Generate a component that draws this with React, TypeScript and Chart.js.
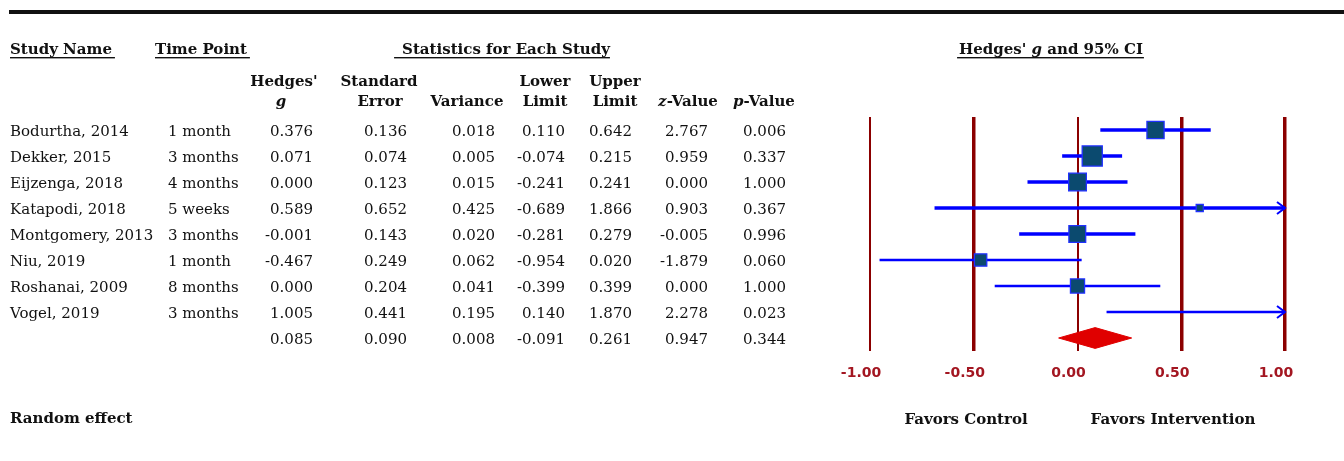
import React, { useEffect, useRef } from 'react';
import { Chart, registerables } from 'chart.js';

Chart.register(...registerables);

// ---------------- data ----------------
const studyNames = ['Bodurtha, 2014', 'Dekker, 2015', 'Eijzenga, 2018', 'Katapodi, 2018', 'Montgomery, 2013', 'Niu, 2019', 'Roshanai, 2009', 'Vogel, 2019'];
const timePoints = ['1 month', '3 months', '4 months', '5 weeks', '3 months', '1 month', '8 months', '3 months'];
const hedgesG = [0.376, 0.071, 0.0, 0.589, -0.001, -0.467, 0.0, 1.005];
const stdError = [0.136, 0.074, 0.123, 0.652, 0.143, 0.249, 0.204, 0.441];
const variance = [0.018, 0.005, 0.015, 0.425, 0.02, 0.062, 0.041, 0.195];
const lowerLimit = [0.11, -0.074, -0.241, -0.689, -0.281, -0.954, -0.399, 0.14];
const upperLimit = [0.642, 0.215, 0.241, 1.866, 0.279, 0.02, 0.399, 1.87];
const zValue = [2.767, 0.959, 0.0, 0.903, -0.005, -1.879, 0.0, 2.278];
const pValue = [0.006, 0.337, 1.0, 0.367, 0.996, 0.06, 1.0, 0.023];
// relative (random-effects) weights, %, estimated from square sizes
const relWeight = [16.9, 23.2, 18.0, 1.8, 16.2, 8.8, 11.4, 3.6];
// summary row: g, SE, variance, lower, upper, z, p
const summaryStats = [0.085, 0.09, 0.008, -0.091, 0.261, 0.947, 0.344];
const xTicks = [-1, -0.5, 0, 0.5, 1];

// ---------------- styles ----------------
const SERIF = '"DejaVu Serif"';
const TEXT = '#111111';
const GRID = '#8b0000';
const gridWidthFor = (v: number) => (v === -1 || v === 0 ? 2 : 3.5);
const ciWidth = [3.5, 3.5, 3.5, 3.5, 3.5, 2.5, 2.5, 2.5];
const DIAMOND_HALF = 0.4;

function font(size: number, bold = false, italic = false) {
  return `${italic ? 'italic ' : ''}${bold ? 'bold ' : ''}${size}px ${SERIF}`;
}

type Run = { t: string; i?: boolean };
function drawRuns(ctx: CanvasRenderingContext2D, runs: Run[], x: number, y: number, align: 'left' | 'center' | 'right', size: number, bold: boolean) {
  let total = 0;
  const widths = runs.map((r) => {
    ctx.font = font(size, bold, !!r.i);
    const w = ctx.measureText(r.t).width;
    total += w;
    return w;
  });
  let cx = align === 'left' ? x : align === 'center' ? x - total / 2 : x - total;
  const left = cx;
  ctx.textAlign = 'left';
  runs.forEach((r, k) => {
    ctx.font = font(size, bold, !!r.i);
    ctx.fillText(r.t, cx, y);
    cx += widths[k];
  });
  return { left, right: left + total };
}

const fmt = (v: number) => v.toFixed(3);

const tablePlugin = {
  id: 'forestTable',
  afterDatasetsDraw(chart: any) {
    const ctx: CanvasRenderingContext2D = chart.ctx;
    const xs = chart.scales.x;
    const ys = chart.scales.y;
    ctx.save();
    // arrowheads for intervals running off the scale
    upperLimit.forEach((u, i) => {
      if (u > xs.max) {
        const px = xs.getPixelForValue(xs.max);
        const py = ys.getPixelForValue(i);
        ctx.strokeStyle = '#0000ff';
        ctx.lineWidth = 2;
        ctx.beginPath();
        ctx.moveTo(px - 8, py - 6);
        ctx.lineTo(px, py);
        ctx.lineTo(px - 8, py + 6);
        ctx.stroke();
      }
    });
    lowerLimit.forEach((l, i) => {
      if (l < xs.min) {
        const px = xs.getPixelForValue(xs.min);
        const py = ys.getPixelForValue(i);
        ctx.strokeStyle = '#0000ff';
        ctx.lineWidth = 2;
        ctx.beginPath();
        ctx.moveTo(px + 8, py - 6);
        ctx.lineTo(px, py);
        ctx.lineTo(px + 8, py + 6);
        ctx.stroke();
      }
    });
    ctx.restore();
  },
  afterDraw(chart: any) {
    const ctx: CanvasRenderingContext2D = chart.ctx;
    const ys = chart.scales.y;
    ctx.save();
    ctx.fillStyle = TEXT;
    ctx.strokeStyle = TEXT;
    ctx.textBaseline = 'alphabetic';

    // top rule
    ctx.fillRect(9, 10, 1335, 4);

    const underline = (l: number, r: number, y: number) => {
      ctx.fillRect(l, y, r - l, 1.4);
    };

    // section headers
    let b = drawRuns(ctx, [{ t: 'Study Name' }], 10, 54, 'left', 15, true);
    underline(10, b.right + 3, 57);
    b = drawRuns(ctx, [{ t: 'Time Point' }], 155, 54, 'left', 15, true);
    underline(155, b.right + 3, 57);
    b = drawRuns(ctx, [{ t: 'Statistics for Each Study' }], 506, 54, 'center', 15, true);
    underline(b.left - 8, b.right, 57);
    b = drawRuns(ctx, [{ t: "Hedges' " }, { t: 'g', i: true }, { t: ' and 95% CI' }], 1051, 54, 'center', 15, true);
    underline(b.left - 2, b.right + 1, 57);

    // column headers
    const h1 = 86;
    const h2 = 106;
    drawRuns(ctx, [{ t: "Hedges'" }], 284, h1, 'center', 15, true);
    drawRuns(ctx, [{ t: 'g', i: true }], 281, h2, 'center', 15, true);
    drawRuns(ctx, [{ t: 'Standard' }], 379, h1, 'center', 15, true);
    drawRuns(ctx, [{ t: 'Error' }], 380, h2, 'center', 15, true);
    drawRuns(ctx, [{ t: 'Variance' }], 467, h2, 'center', 15, true);
    drawRuns(ctx, [{ t: 'Lower' }], 545, h1, 'center', 15, true);
    drawRuns(ctx, [{ t: 'Limit' }], 545, h2, 'center', 15, true);
    drawRuns(ctx, [{ t: 'Upper' }], 615, h1, 'center', 15, true);
    drawRuns(ctx, [{ t: 'Limit' }], 615, h2, 'center', 15, true);
    drawRuns(ctx, [{ t: 'z', i: true }, { t: '-Value' }], 688, h2, 'center', 15, true);
    drawRuns(ctx, [{ t: 'p', i: true }, { t: '-Value' }], 764, h2, 'center', 15, true);

    // study rows
    const numCols = [313, 407, 495, 565, 632, 708, 786];
    studyNames.forEach((name, i) => {
      const y = ys.getPixelForValue(i) + 6;
      drawRuns(ctx, [{ t: name }], 10, y, 'left', 15, false);
      drawRuns(ctx, [{ t: timePoints[i] }], 168, y, 'left', 15, false);
      const vals = [hedgesG[i], stdError[i], variance[i], lowerLimit[i], upperLimit[i], zValue[i], pValue[i]];
      vals.forEach((v, k) => drawRuns(ctx, [{ t: fmt(v) }], numCols[k], y, 'right', 15, false));
    });
    const sy = ys.getPixelForValue(studyNames.length) + 6;
    summaryStats.forEach((v, k) => drawRuns(ctx, [{ t: fmt(v) }], numCols[k], sy, 'right', 15, false));

    // footer
    drawRuns(ctx, [{ t: 'Random effect' }], 10, 423, 'left', 15, true);
    drawRuns(ctx, [{ t: 'Favors Control' }], 966, 424, 'center', 15, true);
    drawRuns(ctx, [{ t: 'Favors Intervention' }], 1173, 424, 'center', 15, true);
    ctx.restore();
  },
};

export default function App() {
  const ref = useRef<HTMLCanvasElement>(null);
  useEffect(() => {
    document.body.style.margin = '0';
    const canvas = ref.current!;
    const nRows = studyNames.length;

    const ciSets = studyNames.map((n, i) => ({
      type: 'line' as const,
      label: n + ' CI',
      data: [
        { x: lowerLimit[i], y: i },
        { x: upperLimit[i], y: i },
      ],
      borderColor: '#0000ff',
      borderWidth: ciWidth[i],
      borderCapStyle: 'butt' as const,
      pointRadius: 0,
      showLine: true,
      fill: false,
      order: 3,
    }));

    const squares = {
      type: 'scatter' as const,
      label: "Hedges' g",
      data: hedgesG.map((g, i) => ({ x: g, y: i })),
      pointStyle: 'rect' as const,
      pointRadius: (c: any) => {
        const v = hedgesG[c.dataIndex];
        if (v > 1 || v < -1) return 0;
        return Math.max(5, 2.95 * Math.sqrt(relWeight[c.dataIndex]));
      },
      backgroundColor: '#0b4a6f',
      borderColor: '#2030ff',
      borderWidth: 1.3,
      order: 0,
    };

    const diamond = {
      type: 'line' as const,
      label: 'Random effect',
      data: [
        { x: summaryStats[3], y: nRows },
        { x: summaryStats[0], y: nRows - DIAMOND_HALF },
        { x: summaryStats[4], y: nRows },
        { x: summaryStats[0], y: nRows + DIAMOND_HALF },
        { x: summaryStats[3], y: nRows },
      ],
      fill: 'shape',
      backgroundColor: '#e00000',
      borderColor: '#e00000',
      borderWidth: 1,
      pointRadius: 0,
      tension: 0,
      order: 1,
    };

    const chart = new Chart(canvas, {
      type: 'scatter',
      data: { datasets: [squares, diamond, ...ciSets] as any },
      options: {
        animation: false,
        responsive: false,
        events: [],
        layout: { padding: { left: 870, right: 59, top: 117, bottom: 70 } },
        plugins: { legend: { display: false }, tooltip: { enabled: false }, title: { display: false } },
        scales: {
          x: {
            type: 'linear',
            min: -1,
            max: 1,
            position: 'bottom',
            afterBuildTicks: (axis: any) => {
              axis.ticks = xTicks.map((v) => ({ value: v }));
            },
            afterFit: (axis: any) => {
              axis.height = 40;
            },
            ticks: {
              autoSkip: false,
              maxRotation: 0,
              padding: 14,
              labelOffset: -9,
              color: '#a31621',
              font: { family: 'DejaVu Sans', weight: 'bold', size: 14 },
              callback: (v: any) => Number(v).toFixed(2),
            },
            grid: {
              color: GRID,
              lineWidth: (c: any) => gridWidthFor(c.tick ? c.tick.value : 0),
              drawTicks: false,
              drawOnChartArea: true,
            },
            border: { display: false },
          },
          y: {
            type: 'linear',
            min: -0.5,
            max: nRows + 0.5,
            reverse: true,
            display: false,
          },
        },
      },
      plugins: [tablePlugin],
    } as any);
    return () => chart.destroy();
  }, []);
  return (
    <div style={{ width: 1344, height: 461 }}>
      <canvas ref={ref} width={1344} height={461} style={{ display: 'block' }} />
    </div>
  );
}
